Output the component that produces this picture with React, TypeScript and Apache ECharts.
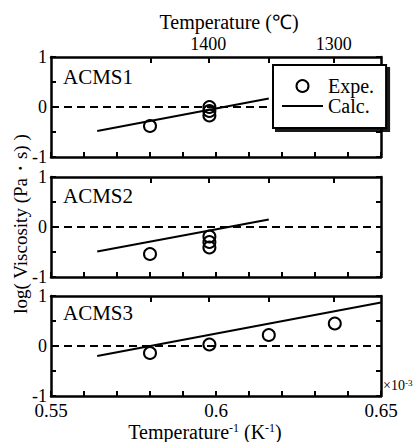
import React, { useEffect, useRef } from "react";
import * as echarts from "echarts";

// ---- data ----
const panelNames = ["ACMS1", "ACMS2", "ACMS3"];
// experimental points (x in 10^-3 K^-1, y = log viscosity)
const expX1 = [0.580, 0.598, 0.598, 0.598];
const expY1 = [-0.38, 0.0, -0.08, -0.17];
const expX2 = [0.580, 0.598, 0.598, 0.598];
const expY2 = [-0.54, -0.19, -0.3, -0.41];
const expX3 = [0.580, 0.598, 0.616, 0.636];
const expY3 = [-0.14, 0.03, 0.22, 0.45];
// calculated lines (end points)
const calcX1 = [0.564, 0.616];
const calcY1 = [-0.48, 0.17];
const calcX2 = [0.564, 0.616];
const calcY2 = [-0.49, 0.15];
const calcX3 = [0.564, 0.65];
const calcY3 = [-0.2, 0.87];
// axes
const tempTicks = [1450, 1400, 1350, 1300];
const tempLabels = [1400, 1300];
const bottomLabels = [0.55, 0.6, 0.65];
const yLabels = [-1, 0, 1];

const FONT = "Liberation Serif";
const invT = (t: number) => 1000 / (t + 273.15);
const zip = (xs: number[], ys: number[]) => xs.map((x, i) => [x, ys[i]]);

const expSets = [zip(expX1, expY1), zip(expX2, expY2), zip(expX3, expY3)];
const calcSets = [zip(calcX1, calcY1), zip(calcX2, calcY2), zip(calcX3, calcY3)];

export default function App() {
  const ref = useRef<HTMLDivElement>(null);
  useEffect(() => {
    if (!ref.current) return;
    const chart = echarts.init(ref.current, undefined, { renderer: "svg" });
    const gridTops = [57, 177, 296];
    const grids = gridTops.map((t) => ({ left: 51, top: t, width: 330, height: 100 }));
    const axisLine = { show: true, onZero: false, lineStyle: { color: "#000", width: 2.5 } };
    const xAxes: any[] = [];
    const yAxes: any[] = [];
    gridTops.forEach((_, i) => {
      xAxes.push({
        type: "value",
        gridIndex: i,
        position: "bottom",
        min: 0.55,
        max: 0.65,
        interval: 0.01,
        axisLine,
        splitLine: { show: false },
        axisTick: { show: true, inside: true, length: 5, lineStyle: { color: "#000", width: 2 } },
        axisLabel: {
          show: i === 2,
          customValues: bottomLabels,
          color: "#000",
          fontFamily: FONT,
          fontSize: 19,
          margin: 5,
          formatter: (v: number) => String(v),
        },
      });
      xAxes.push({
        type: "value",
        gridIndex: i,
        position: "top",
        min: 0.55,
        max: 0.65,
        axisLine,
        splitLine: { show: false },
        axisTick: {
          show: true,
          inside: true,
          length: 6,
          customValues: tempTicks.map(invT),
          lineStyle: { color: "#000", width: 2 },
        },
        axisLabel: {
          show: i === 0,
          customValues: tempLabels.map(invT),
          color: "#000",
          fontFamily: FONT,
          fontSize: 18,
          margin: 4,
          formatter: (v: number) => String(Math.round(1000 / v - 273.15)),
        },
      });
      yAxes.push({
        type: "value",
        gridIndex: i,
        position: "left",
        min: -1,
        max: 1,
        interval: 0.5,
        axisLine,
        splitLine: { show: false },
        axisTick: { show: true, inside: true, length: 5, lineStyle: { color: "#000", width: 2 } },
        axisLabel: {
          color: "#000",
          fontFamily: FONT,
          fontSize: 18,
          margin: 4,
          formatter: (v: number) => (yLabels.includes(v) ? String(v) : ""),
        },
      });
      yAxes.push({
        type: "value",
        gridIndex: i,
        position: "right",
        min: -1,
        max: 1,
        interval: 0.5,
        axisLine,
        splitLine: { show: false },
        axisTick: { show: true, inside: true, length: 5, lineStyle: { color: "#000", width: 2 } },
        axisLabel: { show: false },
      });
    });

    const series: any[] = [];
    gridTops.forEach((_, i) => {
      series.push({
        name: "Calc.",
        type: "line",
        xAxisIndex: i * 2,
        yAxisIndex: i * 2,
        data: calcSets[i],
        symbol: "none",
        lineStyle: { color: "#000", width: 2 },
        itemStyle: { color: "#000" },
      });
      series.push({
        name: "Expe.",
        type: "scatter",
        xAxisIndex: i * 2,
        yAxisIndex: i * 2,
        data: expSets[i],
        symbol: "circle",
        symbolSize: 12,
        itemStyle: { color: "rgba(255,255,255,0)", borderColor: "#000", borderWidth: 2, opacity: 1 },
        markLine: {
          silent: true,
          symbol: ["none", "none"],
          label: { show: false },
          lineStyle: { color: "#000", width: 2, type: [8, 5] },
          data: [{ yAxis: 0 }],
        },
      });
    });

    const txt = (text: string, x: number, y: number, size: number, extra: any = {}) => ({
      type: "text",
      x,
      y,
      style: {
        text,
        fontFamily: FONT,
        fontSize: size,
        fill: "#000",
        align: "center",
        verticalAlign: "middle",
        ...extra,
      },
    });

    chart.setOption({
      animation: false,
      backgroundColor: "#fff",
      grid: grids,
      xAxis: xAxes,
      yAxis: yAxes,
      series,
      legend: {
        data: [
          { name: "Expe." },
          { name: "Calc.", icon: "path://M0,0H41V2H0Z", itemStyle: { color: "#000" } },
        ],
        orient: "vertical",
        left: 273,
        top: 65,
        z: 10,
        padding: [11, 12, 12, 9],
        itemGap: 0,
        itemWidth: 41,
        itemHeight: 12,
        symbolKeepAspect: true,
        backgroundColor: "#fff",
        borderColor: "#000",
        borderWidth: 2,
        shadowColor: "rgba(0,0,0,0.9)",
        shadowOffsetX: 3,
        shadowOffsetY: 3,
        shadowBlur: 0,
        textStyle: { color: "#000", fontFamily: FONT, fontSize: 20 },
      },
      graphic: [
        ...panelNames.map((n, i) => txt(n, 63, [77, 196, 313][i], 21, { align: "left" })),
        txt("Temperature (℃)", 229, 22, 20),
        {
          type: "text",
          x: 20,
          y: 224,
          rotation: Math.PI / 2,
          style: {
            text: "log( Viscosity (Pa・s) )",
            fontFamily: FONT,
            fontSize: 19,
            fill: "#000",
            align: "center",
            verticalAlign: "middle",
          },
        },
        {
          type: "text",
          x: 205,
          y: 432,
          style: {
            text: "Temperature{s|-1} (K{s|-1})",
            fontFamily: FONT,
            fontSize: 20,
            fill: "#000",
            align: "center",
            verticalAlign: "middle",
            rich: {
              s: { fontFamily: FONT, fontSize: 12, verticalAlign: "top", fill: "#000" },
            },
          },
        },
        {
          type: "text",
          x: 383,
          y: 385,
          style: {
            text: "×10{s|-3}",
            fontFamily: FONT,
            fontSize: 14,
            fill: "#000",
            align: "left",
            verticalAlign: "middle",
            rich: {
              s: { fontFamily: FONT, fontSize: 9, verticalAlign: "top", fill: "#000" },
            },
          },
        },
      ],
    });
    return () => chart.dispose();
  }, []);
  return (
    <div
      ref={ref}
      style={{ position: "absolute", left: 0, top: 0, width: 414, height: 442 }}
    />
  );
}
